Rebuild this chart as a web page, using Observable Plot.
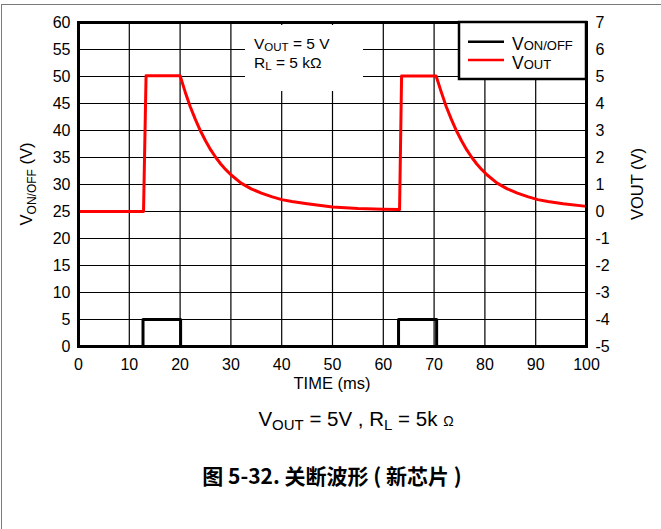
<!DOCTYPE html>
<html><head><meta charset="utf-8">
<script src="https://cdn.jsdelivr.net/npm/d3@7"></script>
<script src="https://cdn.jsdelivr.net/npm/@observablehq/plot@0.6"></script>
<style>
body{margin:0;background:#fff;font-family:"Liberation Sans",Arial,sans-serif;}
#page{position:relative;width:661px;height:529px;overflow:hidden;background:#fff;}
#border{position:absolute;left:1px;top:4px;width:680px;height:600px;border-top:1.5px solid #7a7a7a;border-left:1.5px solid #7a7a7a;}
#chart{position:absolute;left:0;top:0;}
.cap{position:absolute;white-space:nowrap;color:#000;}
#caption{top:407px;left:0;width:712px;text-align:center;font-size:20.5px;}
#caption sub{font-size:15px;vertical-align:-4px;line-height:0;}
#caption .om{font-size:14px;}
#title{top:460px;left:0;width:664px;text-align:center;font-size:21px;font-weight:bold;font-family:"Noto Sans CJK SC","Liberation Sans",sans-serif;}
</style></head>
<body><div id="page"><div id="border"></div><div id="chart"></div>
<div class="cap" id="caption">V<sub>OUT</sub> = 5V , R<sub>L</sub> = 5k <span class="om">Ω</span></div>
<div class="cap" id="title">图 5-32. 关断波形 ( 新芯片 )</div>
</div>
<script>
// ---- data ----
const xTicks = [0, 10, 20, 30, 40, 50, 60, 70, 80, 90, 100];
const yTicksLeft = [0, 5, 10, 15, 20, 25, 30, 35, 40, 45, 50, 55, 60];
const yTicksRight = [-5, -4, -3, -2, -1, 0, 1, 2, 3, 4, 5, 6, 7];

// V_ON/OFF (left axis, V)
const onoffTime = [0, 12.7, 12.7, 20.1, 20.1, 63.0, 63.0, 70.5, 70.5, 100];
const onoffVolt = [0, 0, 5, 5, 0, 0, 5, 5, 0, 0];

// V_OUT (right axis, V)
const voutTime = [0, 12.8, 13.3, 20.0, 21, 22, 23, 24, 25, 26, 27, 28, 29, 30, 32, 34, 36, 38, 40, 42, 45, 50, 55, 60, 63.2,
  63.6, 70.4, 71.4, 72.4, 73.4, 74.4, 75.4, 76.4, 77.4, 78.4, 79.4, 80.4, 82.4, 84.4, 86.4, 88.4, 90.4, 92.4, 95.4, 100];
const voutVolt = [0, 0, 5.03, 5.03, 4.43, 3.88, 3.41, 2.99, 2.62, 2.29, 2.01, 1.76, 1.55, 1.36, 1.05, 0.84, 0.68, 0.55, 0.44, 0.37, 0.29, 0.17, 0.11, 0.08, 0.07,
  5.02, 5.02, 4.43, 3.88, 3.41, 2.99, 2.62, 2.29, 2.01, 1.76, 1.55, 1.36, 1.05, 0.84, 0.68, 0.55, 0.44, 0.37, 0.29, 0.19];

const onoff = onoffTime.map((t, i) => ({t, v: onoffVolt[i]}));
const vout = voutTime.map((t, i) => ({t, v: voutVolt[i]}));
// right axis value r maps to left axis value 5*r + 25
const toLeft = r => r * 5 + 25;

const font = "Liberation Sans, Arial, sans-serif";
const plot = Plot.plot({
  width: 661, height: 400,
  marginTop: 22, marginBottom: 54, marginLeft: 78, marginRight: 75,
  style: {fontFamily: font, fontSize: "16px", background: "transparent", color: "black", overflow: "visible"},
  x: {domain: [0, 100], label: null},
  y: {domain: [0, 60], label: null},
  marks: [
    Plot.gridX(xTicks, {stroke: "black", strokeOpacity: 1, strokeWidth: 1.2}),
    Plot.gridY(yTicksLeft, {stroke: "black", strokeOpacity: 1, strokeWidth: 1.2}),
    Plot.axisX(xTicks, {tickSize: 0, tickPadding: 12, label: null, fontSize: 16}),
    Plot.axisY(yTicksLeft, {anchor: "left", tickSize: 0, tickPadding: 8, label: null, fontSize: 16}),
    Plot.axisY(yTicksRight.map(toLeft), {anchor: "right", tickSize: 0, tickPadding: 9, label: null, fontSize: 16,
      tickFormat: d => String(Math.round((d - 25) / 5))}),
    Plot.line(onoff, {x: "t", y: "v", stroke: "black", strokeWidth: 3}),
    Plot.line(vout, {x: "t", y: d => toLeft(d.v), stroke: "red", strokeWidth: 3}),
    Plot.frame({stroke: "black", strokeWidth: 3})
  ]
});
document.getElementById("chart").appendChild(plot);

const svg = d3.select(plot);
const X = plot.scale("x"), Y = plot.scale("y");
const x0 = X.apply(0), x1 = X.apply(100), yTop = Y.apply(60), yBot = Y.apply(0);
const ann = svg.append("g").attr("font-family", font).attr("fill", "black").attr("text-anchor", "start");

// annotation box (white, no border) and text
ann.append("rect").attr("x", 245).attr("y", yTop + 3).attr("width", 118).attr("height", 66).attr("fill", "white");
const t1 = ann.append("text").attr("x", 254).attr("y", 48.5).attr("font-size", 15.5).attr("text-anchor", "start");
t1.append("tspan").text("V");
t1.append("tspan").attr("font-size", 11.5).attr("dy", 2).text("OUT");
t1.append("tspan").attr("dy", -2).text(" = 5 V");
const t2 = ann.append("text").attr("x", 254).attr("y", 67.5).attr("font-size", 15.5).attr("text-anchor", "start");
t2.append("tspan").text("R");
t2.append("tspan").attr("font-size", 11.5).attr("dy", 2).text("L");
t2.append("tspan").attr("dy", -2).text(" = 5 kΩ");

// legend
const lg = svg.append("g").attr("font-family", font).attr("text-anchor", "start");
lg.append("rect").attr("x", 459).attr("y", yTop).attr("width", x1 - 459).attr("height", 57)
  .attr("fill", "white").attr("stroke", "black").attr("stroke-width", 2.5);
lg.append("line").attr("x1", 468).attr("x2", 504).attr("y1", 41.7).attr("y2", 41.7).attr("stroke", "black").attr("stroke-width", 2.5);
lg.append("line").attr("x1", 468).attr("x2", 504).attr("y1", 60).attr("y2", 60).attr("stroke", "red").attr("stroke-width", 2.5);
const l1 = lg.append("text").attr("x", 512).attr("y", 49.5).attr("font-size", 17.5).attr("text-anchor", "start");
l1.append("tspan").text("V");
l1.append("tspan").attr("font-size", 13).text("ON/OFF");
const l2 = lg.append("text").attr("x", 512).attr("y", 68.5).attr("font-size", 17.5).attr("text-anchor", "start");
l2.append("tspan").text("V");
l2.append("tspan").attr("font-size", 13).text("OUT");

// axis titles
svg.append("text").attr("x", (x0 + x1) / 2).attr("y", 389).attr("text-anchor", "middle")
  .attr("font-family", font).attr("font-size", 16.5).text("TIME (ms)");
const lt = svg.append("text").attr("transform", `translate(32,${(yTop + yBot) / 2}) rotate(-90)`)
  .attr("text-anchor", "middle").attr("font-family", font).attr("font-size", 16.5);
lt.append("tspan").text("V");
lt.append("tspan").attr("font-size", 12).attr("dy", 4).text("ON/OFF");
lt.append("tspan").attr("dy", -4).text(" (V)");
svg.append("text").attr("transform", `translate(643,${(yTop + yBot) / 2}) rotate(-90)`)
  .attr("text-anchor", "middle").attr("font-family", font).attr("font-size", 16.5).text("VOUT (V)");
</script></body></html>
